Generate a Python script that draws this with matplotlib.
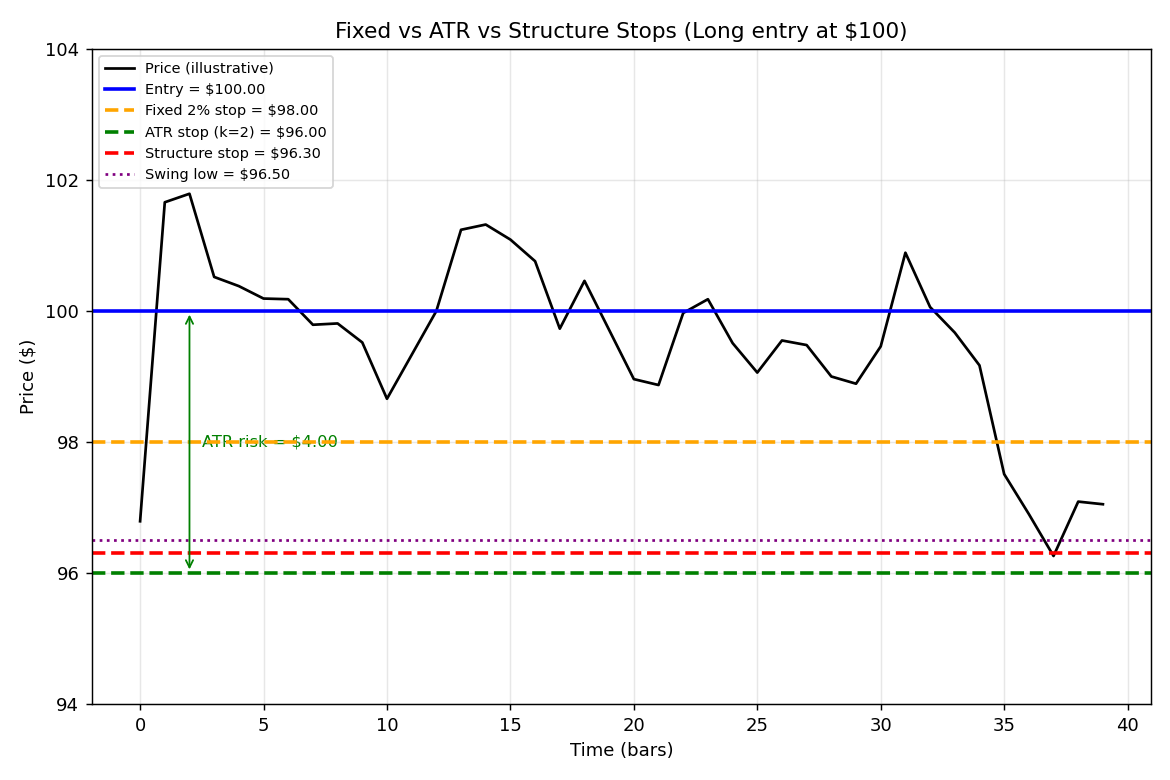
import matplotlib
matplotlib.use("Agg")
import matplotlib.pyplot as plt
import numpy as np

# ---------------- data ----------------
bars = list(range(40))
price = [96.79, 101.66, 101.79, 100.52, 100.38, 100.19, 100.18, 99.79, 99.81, 99.52,
         98.66, 99.33, 100.00, 101.24, 101.32, 101.09, 100.76, 99.73, 100.46, 99.71,
         98.96, 98.87, 99.97, 100.18, 99.51, 99.06, 99.55, 99.48, 99.00, 98.89,
         99.46, 100.89, 100.06, 99.67, 99.17, 97.51, 96.90, 96.26, 97.09, 97.05]

entry = 100.00
fixed_stop = 98.00
atr_stop = 96.00
structure_stop = 96.30
swing_low = 96.50
atr_risk = entry - atr_stop

# ---------------- plot ----------------
fig, ax = plt.subplots(figsize=(9, 6), dpi=130)
fig.subplots_adjust(left=0.0786, right=0.9838, top=0.9372, bottom=0.0974)

ax.plot(bars, price, color="black", lw=1.5, label="Price (illustrative)")
ax.axhline(entry, color="blue", lw=2, label="Entry = $%.2f" % entry)
ax.axhline(fixed_stop, color="orange", lw=2, ls="--", label="Fixed 2%% stop = $%.2f" % fixed_stop)
ax.axhline(atr_stop, color="green", lw=2, ls="--", label="ATR stop (k=2) = $%.2f" % atr_stop)
ax.axhline(structure_stop, color="red", lw=2, ls="--", label="Structure stop = $%.2f" % structure_stop)
ax.axhline(swing_low, color="purple", lw=1.5, ls=":", label="Swing low = $%.2f" % swing_low)

# risk arrow
ax.annotate("", xy=(2, atr_stop), xytext=(2, entry),
            arrowprops=dict(arrowstyle="<->", color="green", lw=1.0))
ax.text(2.5, (entry + atr_stop) / 2, "ATR risk = $%.2f" % atr_risk,
        color="green", va="center", fontsize=9, zorder=1)

ax.set_ylim(94, 104)
ax.set_yticks([94, 96, 98, 100, 102, 104])
ax.set_title("Fixed vs ATR vs Structure Stops (Long entry at $100)")
ax.set_xlabel("Time (bars)")
ax.set_ylabel("Price ($)")
ax.grid(True, alpha=0.3)
ax.legend(loc="upper left", fontsize=8)

plt.savefig("out.png", dpi=130)
